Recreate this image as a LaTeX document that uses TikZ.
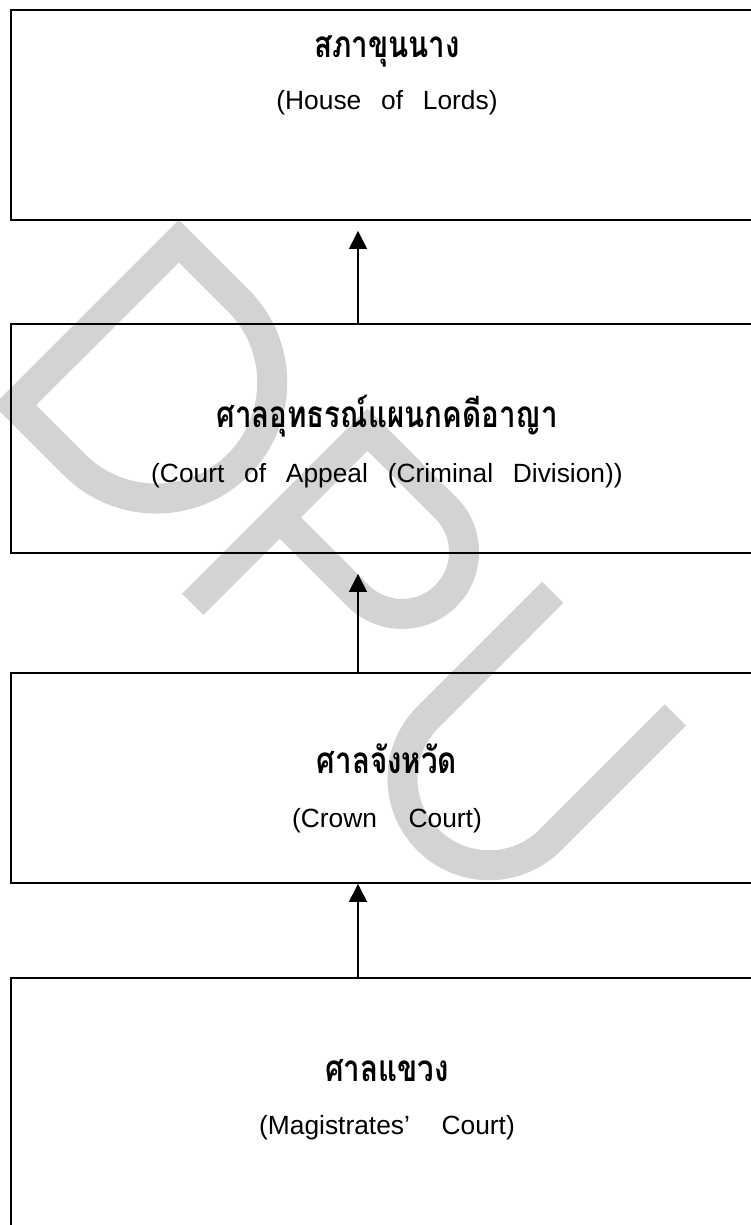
\documentclass[tikz,border=0pt]{standalone}
\usepackage{fontspec}
\setmainfont{Liberation Sans}
\newfontfamily\thaifont[Script=Thai]{Loma}
\newcommand\thfont{\thaifont\bfseries\fontsize{21}{24}\selectfont}
\newcommand\thlabel[1]{\scalebox{0.8}[1]{\thfont #1}}
\newcommand\engfont{\fontsize{15}{18}\selectfont\spaceskip=0.75em\relax}
\usetikzlibrary{arrows.meta}
\definecolor{wmark}{RGB}{211,211,211}
\tikzset{
  court/.style={draw, line width=1.1pt, minimum width=15cm, inner sep=0pt},
  thai/.style={anchor=base, inner sep=0pt},
  eng/.style={anchor=base, inner sep=0pt, font=\engfont},
  up/.style={-{Triangle[length=3.6mm,width=3.6mm]}, line width=0.8pt},
  wm/.style={draw=wmark, line width=0.6cm, line join=miter}
}
\begin{document}
\begin{tikzpicture}[x=0.02cm,y=-0.02cm]
      \useasboundingbox (0,0) rectangle (751,1225);
      \clip (0,0) rectangle (751,1225);
      \begin{scope}[wm]
        \draw (14.8,405.2) -- (178.9,241.2) -- (238.3,300.6)
          .. controls (283.6,345.9) and (283.6,419.3) .. (238.3,464.6)
          .. controls (193,509.9) and (119.6,509.9) .. (74.3,464.6) -- cycle;
        \draw (192.8,604.3) -- (367.4,429.7) -- (445.9,508.1)
          .. controls (470.1,532.3) and (470.1,571.6) .. (445.9,595.8)
          .. controls (421.7,620) and (382.4,620) .. (358.2,595.8) -- (279.8,517.4);
        \draw (552.7,592.3) -- (427.9,717.2)
          .. controls (394,751.1) and (394,805.9) .. (427.9,839.8)
          .. controls (461.8,873.7) and (516.7,873.7) .. (550.6,839.8) -- (675.4,715);
      \end{scope}
      \node[court, minimum height=4.2cm] (lords) at (386,115) {};
      \node[court, minimum height=4.58cm] (appeal) at (386,438.5) {};
      \node[court, minimum height=4.2cm] (crown) at (386,778) {};
      \node[court, minimum height=5.3cm] (magis) at (386,1110.5) {};
      \node[thai] (lordsTH) at (387,57) {\thlabel{สภาขุนนาง}};
      \node[eng] (lordsEN) at (387,109) {(House of Lords)};
      \node[thai] (appealTH) at (387,427) {\thlabel{ศาลอุทธรณ์แผนกคดีอาญา}};
      \node[eng] (appealEN) at (387,482) {(Court of Appeal (Criminal Division))};
      \node[thai] (crownTH) at (387,773) {\thlabel{ศาลจังหวัด}};
      \node[eng] (crownEN) at (387,827) {(Crown\hspace{1.2em}Court)};
      \node[thai] (magisTH) at (387,1081) {\thlabel{ศาลแขวง}};
      \node[eng] (magisEN) at (387,1134) {(Magistrates'\hspace{1.2em}Court)};
      \coordinate (ax) at (358,0);
      \begin{scope}[up]
        \draw[shorten >=0.2cm] (appeal.north -| ax) -- (lords.south -| ax);
        \draw[shorten >=0.4cm] (crown.north -| ax) -- (appeal.south -| ax);
        \draw (magis.north -| ax) -- (crown.south -| ax);
      \end{scope}
\end{tikzpicture}
\end{document}
